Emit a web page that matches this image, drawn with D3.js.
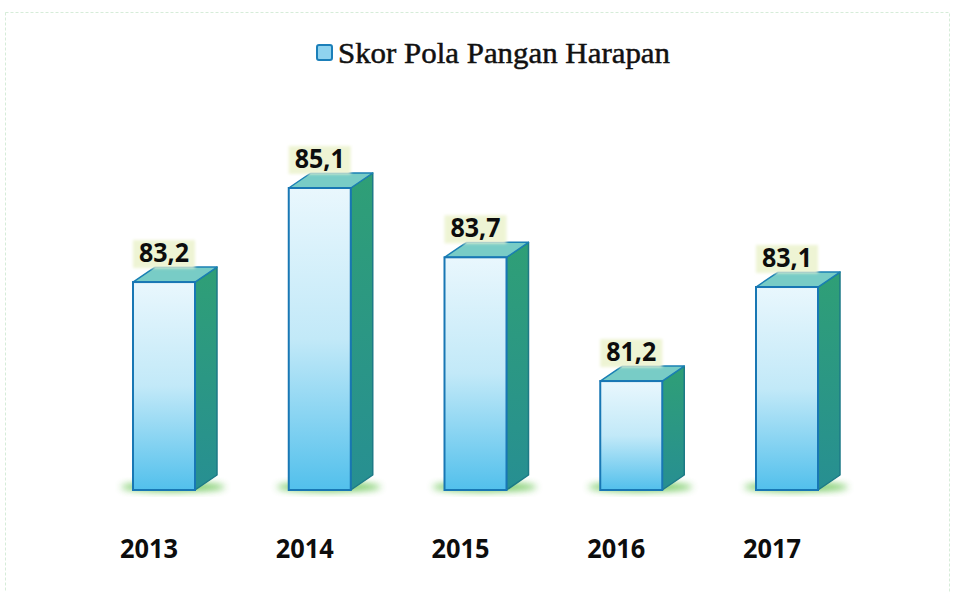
<!DOCTYPE html>
<html>
<head>
<meta charset="utf-8">
<script src="https://cdn.jsdelivr.net/npm/d3@7"></script>
<style>
  body { margin: 0; background: #fff; }
</style>
</head>
<body>
<div class="d3Chart"></div>
<script>
// data
var years = ["2013", "2014", "2015", "2016", "2017"];
var values = [83.2, 85.1, 83.7, 81.2, 83.1];
var labels = ["83,2", "85,1", "83,7", "81,2", "83,1"];
var seriesName = "Skor Pola Pangan Harapan";

var width = 955;
var height = 592;

var svg = d3
  .select(".d3Chart")
  .append("svg")
  .attr("width", width)
  .attr("height", height)
  .style("background-color", "#ffffff");

var defs = svg.append("defs");

// front face gradient
var grad = defs.append("linearGradient")
  .attr("id", "frontGrad")
  .attr("x1", 0).attr("y1", 0).attr("x2", 0).attr("y2", 1);
grad.append("stop").attr("offset", "0%").attr("stop-color", "#e9f7fd");
grad.append("stop").attr("offset", "50%").attr("stop-color", "#c2e9f8");
grad.append("stop").attr("offset", "100%").attr("stop-color", "#52c0ec");

var sideGrad = defs.append("linearGradient")
  .attr("id", "sideGrad")
  .attr("x1", 0).attr("y1", 0).attr("x2", 0).attr("y2", 1);
sideGrad.append("stop").attr("offset", "0%").attr("stop-color", "#2f9f76");
sideGrad.append("stop").attr("offset", "100%").attr("stop-color", "#278f92");

var blur = defs.append("filter").attr("id", "blur")
  .attr("x", "-50%").attr("y", "-50%").attr("width", "200%").attr("height", "200%");
blur.append("feGaussianBlur").attr("stdDeviation", 3.5);

var blurSoft = defs.append("filter").attr("id", "blurSoft")
  .attr("x", "-20%").attr("y", "-20%").attr("width", "140%").attr("height", "140%");
blurSoft.append("feGaussianBlur").attr("stdDeviation", 1.5);

// faint frame
svg.append("rect")
  .attr("x", 5.5).attr("y", 12.5)
  .attr("width", 944).attr("height", 590)
  .attr("fill", "none")
  .attr("stroke", "#d6ecd9")
  .attr("stroke-dasharray", "3,2");

// scales
var x = d3.scalePoint().domain(years).range([164, 787]);
var y = d3.scaleLinear().domain([79, 85.1]).range([490, 188]);

var barW = 62;
var depthX = 22;
var depthY = -15;

var chart = svg.append("g");

var bars = chart.selectAll(".bar")
  .data(years.map(function (d, i) { return { year: d, value: values[i], label: labels[i] }; }))
  .enter()
  .append("g")
  .attr("class", "bar");

// ground shadow
bars.append("ellipse")
  .attr("cx", function (d) { return x(d.year) + depthX / 2 - 2; })
  .attr("cy", y(79) - 3)
  .attr("rx", 52)
  .attr("ry", 5)
  .attr("fill", "#6fc75a")
  .attr("opacity", 0.9)
  .attr("filter", "url(#blur)");

// side face
bars.append("path")
  .attr("d", function (d) {
    var x1 = x(d.year) + barW / 2;
    var yt = y(d.value);
    var yb = y(79);
    return "M" + x1 + "," + yt +
      "L" + (x1 + depthX) + "," + (yt + depthY) +
      "L" + (x1 + depthX) + "," + (yb + depthY) +
      "L" + x1 + "," + yb + "Z";
  })
  .attr("fill", "url(#sideGrad)")
  .attr("stroke", "#1d7a86")
  .attr("stroke-width", 1.5)
  .attr("stroke-linejoin", "round");

// top face
bars.append("path")
  .attr("d", function (d) {
    var x0 = x(d.year) - barW / 2;
    var x1 = x(d.year) + barW / 2;
    var yt = y(d.value);
    return "M" + x0 + "," + yt +
      "L" + (x0 + depthX) + "," + (yt + depthY) +
      "L" + (x1 + depthX) + "," + (yt + depthY) +
      "L" + x1 + "," + yt + "Z";
  })
  .attr("fill", "#78ccc6")
  .attr("stroke", "#1a80b4")
  .attr("stroke-width", 1.5)
  .attr("stroke-linejoin", "round");

// front face
bars.append("rect")
  .attr("x", function (d) { return x(d.year) - barW / 2; })
  .attr("y", function (d) { return y(d.value); })
  .attr("width", barW)
  .attr("height", function (d) { return y(79) - y(d.value); })
  .attr("fill", "url(#frontGrad)")
  .attr("stroke", "#1877b4")
  .attr("stroke-width", 2);

// value label boxes
bars.append("rect")
  .attr("x", function (d) { return x(d.year) - 31; })
  .attr("y", function (d) { return y(d.value) + depthY - 27; })
  .attr("width", 62)
  .attr("height", 28)
  .attr("fill", "#eef4d4")
  .attr("filter", "url(#blurSoft)");

bars.append("text")
  .attr("x", function (d) { return x(d.year); })
  .attr("y", function (d) { return y(d.value) + depthY - 5; })
  .attr("text-anchor", "middle")
  .style("font-family", "'Open Sans', sans-serif")
  .style("font-weight", "bold")
  .style("font-size", "26px")
  .attr("textLength", 50)
  .attr("lengthAdjust", "spacingAndGlyphs")
  .attr("fill", "#0d0d0d")
  .text(function (d) { return d.label; });

// year labels
chart.selectAll(".year")
  .data(years)
  .enter()
  .append("text")
  .attr("class", "year")
  .attr("x", function (d) { return x(d) - 15; })
  .attr("y", 558)
  .attr("text-anchor", "middle")
  .style("font-family", "'Open Sans', sans-serif")
  .style("font-weight", "bold")
  .style("font-size", "27px")
  .attr("textLength", 58)
  .attr("lengthAdjust", "spacingAndGlyphs")
  .attr("fill", "#0d0d0d")
  .text(function (d) { return d; });

// legend
var legend = svg.append("g");
legend.append("rect")
  .attr("x", 317).attr("y", 45)
  .attr("width", 15).attr("height", 15)
  .attr("rx", 2)
  .attr("fill", "#8fd3ef")
  .attr("stroke", "#1b7fb9")
  .attr("stroke-width", 2);
legend.append("text")
  .attr("x", 338).attr("y", 63)
  .style("font-family", "'Liberation Serif', serif")
  .style("font-size", "30px")
  .attr("textLength", 332)
  .attr("lengthAdjust", "spacingAndGlyphs")
  .attr("fill", "#111")
  .attr("stroke", "#111")
  .attr("stroke-width", 0.5)
  .text(seriesName);
</script>
</body>
</html>
